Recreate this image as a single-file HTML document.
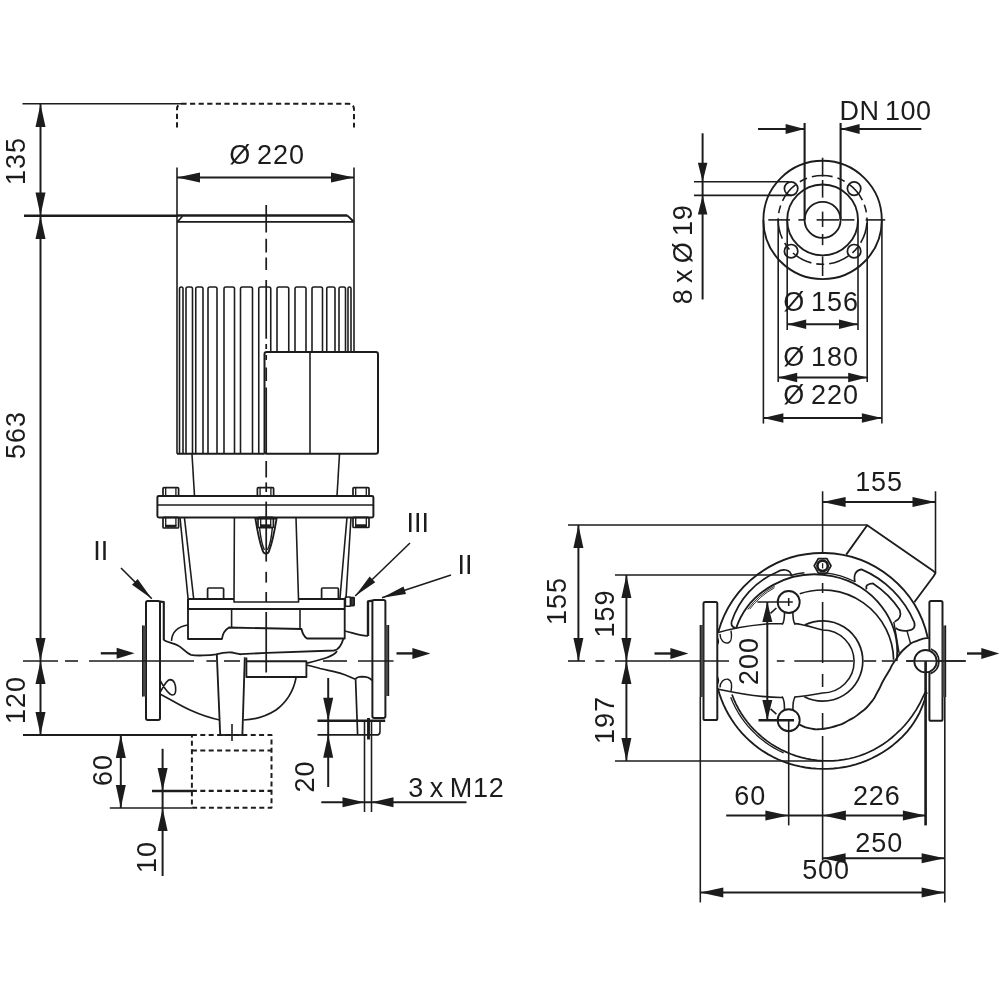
<!DOCTYPE html>
<html><head><meta charset="utf-8"><title>Pump dimension drawing</title>
<style>
html,body{margin:0;padding:0;background:#fff;}
body{width:1000px;height:1000px;overflow:hidden;}
svg{display:block;will-change:transform;transform:translateZ(0);}
svg *{vector-effect:none;}
text{font-family:"Liberation Sans",sans-serif;fill:#1c1c1c;stroke:none;}
</style></head><body>
<svg width="1000" height="1000" viewBox="0 0 1000 1000" fill="none" stroke="#1c1c1c" stroke-linecap="butt" stroke-linejoin="round">
<rect x="0" y="0" width="1000" height="1000" fill="#ffffff" stroke="none"/>
<!-- front view -->
<line x1="22.5" y1="103.75" x2="182" y2="103.75" stroke-width="1.58"/>
<line x1="24" y1="215.75" x2="177" y2="215.75" stroke-width="2.64"/>
<line x1="40.5" y1="104" x2="40.5" y2="735" stroke-width="1.98"/>
<polygon points="40.5,104 45.5,127 35.5,127" fill="#1c1c1c" stroke="none"/>
<polygon points="40.5,215.5 35.5,192.5 45.5,192.5" fill="#1c1c1c" stroke="none"/>
<polygon points="40.5,216 45.5,239 35.5,239" fill="#1c1c1c" stroke="none"/>
<polygon points="40.5,661 35.5,638 45.5,638" fill="#1c1c1c" stroke="none"/>
<polygon points="40.5,661 45.5,684 35.5,684" fill="#1c1c1c" stroke="none"/>
<polygon points="40.5,735 35.5,712 45.5,712" fill="#1c1c1c" stroke="none"/>
<text x="25" y="161" font-size="27" text-anchor="middle" letter-spacing="0.9" word-spacing="-2.4" transform="rotate(-90 25 161)">135</text>
<text x="25" y="435" font-size="27" text-anchor="middle" letter-spacing="0.9" word-spacing="-2.4" transform="rotate(-90 25 435)">563</text>
<text x="25" y="700" font-size="27" text-anchor="middle" letter-spacing="0.9" word-spacing="-2.4" transform="rotate(-90 25 700)">120</text>
<path d="M177 127.5V109.5Q177 103.75 182.5 103.75H348.5Q354 103.75 354 109.5V127.5" stroke-width="1.98" fill="none" stroke-dasharray="5.2 3.4"/>
<line x1="177" y1="177.5" x2="354" y2="177.5" stroke-width="2.24"/>
<polygon points="177,177.5 200,172.5 200,182.5" fill="#1c1c1c" stroke="none"/>
<polygon points="354,177.5 331,182.5 331,172.5" fill="#1c1c1c" stroke="none"/>
<text x="267" y="163.7" font-size="27" text-anchor="middle" letter-spacing="0.9" word-spacing="-2.4">&#216; 220</text>
<line x1="177" y1="167.5" x2="177" y2="453.75" stroke-width="1.58"/>
<line x1="354" y1="167.5" x2="354" y2="352" stroke-width="1.58"/>
<line x1="177" y1="215.6" x2="347.4" y2="215.6" stroke-width="2.51"/>
<line x1="177" y1="221.8" x2="354" y2="221.8" stroke-width="1.85"/>
<line x1="347.2" y1="215.4" x2="353.8" y2="221.8" stroke-width="1.98"/>
<line x1="177.6" y1="221.6" x2="182.5" y2="216.2" stroke-width="1.58"/>
<path d="M179.5 453.75V288.75Q179.5 287 181.25 287H181.25Q183 287 183 288.75V453.75" stroke-width="1.58" fill="none"/>
<path d="M186 453.75V288.8Q186 287 187.8 287H190.7Q192.5 287 192.5 288.8V453.75" stroke-width="1.58" fill="none"/>
<path d="M195.75 453.75V288.8Q195.75 287 197.55 287H201.2Q203 287 203 288.8V453.75" stroke-width="1.58" fill="none"/>
<path d="M208 453.75V288.8Q208 287 209.8 287H215.2Q217 287 217 288.8V453.75" stroke-width="1.58" fill="none"/>
<path d="M224 453.75V288.8Q224 287 225.8 287H232.7Q234.5 287 234.5 288.8V453.75" stroke-width="1.58" fill="none"/>
<path d="M240.5 453.75V288.8Q240.5 287 242.3 287H250.7Q252.5 287 252.5 288.8V453.75" stroke-width="1.58" fill="none"/>
<path d="M258.75 453.75V288.8Q258.75 287 260.55 287H268.95Q270.75 287 270.75 288.8V352" stroke-width="1.58" fill="none"/>
<path d="M277 352V288.8Q277 287 278.8 287H286.95Q288.75 287 288.75 288.8V352" stroke-width="1.58" fill="none"/>
<path d="M295 352V288.8Q295 287 296.8 287H304.2Q306 287 306 288.8V352" stroke-width="1.58" fill="none"/>
<path d="M312 352V288.8Q312 287 313.8 287H320.7Q322.5 287 322.5 288.8V352" stroke-width="1.58" fill="none"/>
<path d="M326.75 352V288.8Q326.75 287 328.55 287H333.2Q335 287 335 288.8V352" stroke-width="1.58" fill="none"/>
<path d="M339 352V288.8Q339 287 340.8 287H343.7Q345.5 287 345.5 288.8V352" stroke-width="1.58" fill="none"/>
<path d="M348 352V288.5Q348 287 349.5 287H349.5Q351 287 351 288.5V352" stroke-width="1.58" fill="none"/>
<line x1="177" y1="453.75" x2="264.5" y2="453.75" stroke-width="2.11"/>
<rect x="264.5" y="352" width="113.5" height="101.75" rx="2.2" stroke-width="1.98" fill="none"/>
<line x1="310" y1="352" x2="310" y2="453.75" stroke-width="1.58"/>
<line x1="266.2" y1="205" x2="266.2" y2="232.5" stroke-width="1.72"/>
<line x1="266.2" y1="238.75" x2="266.2" y2="252.5" stroke-width="1.72"/>
<line x1="266.2" y1="257.5" x2="266.2" y2="270" stroke-width="1.72"/>
<line x1="266.2" y1="280" x2="266.2" y2="338.75" stroke-width="1.72"/>
<line x1="266.2" y1="344" x2="266.2" y2="349" stroke-width="1.72"/>
<line x1="266.2" y1="355" x2="266.2" y2="360" stroke-width="1.72"/>
<line x1="266.2" y1="367.5" x2="266.2" y2="381" stroke-width="1.72"/>
<line x1="266.2" y1="387.5" x2="266.2" y2="453" stroke-width="1.72"/>
<line x1="266.2" y1="461" x2="266.2" y2="477.5" stroke-width="1.72"/>
<line x1="266.2" y1="482.4" x2="266.2" y2="492" stroke-width="1.72"/>
<line x1="266.2" y1="501.6" x2="266.2" y2="561.6" stroke-width="1.72"/>
<line x1="266.2" y1="571.8" x2="266.2" y2="582.6" stroke-width="1.72"/>
<line x1="266.2" y1="592" x2="266.2" y2="602" stroke-width="1.72"/>
<line x1="266.2" y1="612" x2="266.2" y2="672.5" stroke-width="1.72"/>
<line x1="192" y1="454" x2="194.5" y2="496" stroke-width="1.58"/>
<line x1="339.5" y1="454" x2="337" y2="496" stroke-width="1.58"/>
<rect x="157.4" y="496" width="216" height="21.4" rx="1.5" stroke-width="1.98" fill="none"/>
<line x1="157.4" y1="505" x2="373.4" y2="505" stroke-width="1.58"/>
<rect x="163" y="487.6" width="15.6" height="8.4" rx="1" stroke-width="1.72" fill="none"/>
<line x1="165.7" y1="487.6" x2="165.7" y2="496" stroke-width="1.32"/>
<line x1="175.9" y1="487.6" x2="175.9" y2="496" stroke-width="1.32"/>
<rect x="257.4" y="487.6" width="16.2" height="8.4" rx="1" stroke-width="1.72" fill="none"/>
<line x1="260.1" y1="487.6" x2="260.1" y2="496" stroke-width="1.32"/>
<line x1="270.9" y1="487.6" x2="270.9" y2="496" stroke-width="1.32"/>
<rect x="353" y="487.6" width="16" height="8.4" rx="1" stroke-width="1.72" fill="none"/>
<line x1="355.7" y1="487.6" x2="355.7" y2="496" stroke-width="1.32"/>
<line x1="366.3" y1="487.6" x2="366.3" y2="496" stroke-width="1.32"/>
<rect x="163" y="517.4" width="15.6" height="10.6" rx="1" stroke-width="1.72" fill="none"/>
<line x1="165.7" y1="517.4" x2="165.7" y2="525.6" stroke-width="1.32"/>
<line x1="175.9" y1="517.4" x2="175.9" y2="525.6" stroke-width="1.32"/>
<line x1="165" y1="526.2" x2="176.6" y2="526.2" stroke-width="2.9"/>
<rect x="258" y="517.4" width="15.4" height="10.2" rx="1" stroke-width="1.72" fill="none"/>
<line x1="260.7" y1="517.4" x2="260.7" y2="525.2" stroke-width="1.32"/>
<line x1="270.7" y1="517.4" x2="270.7" y2="525.2" stroke-width="1.32"/>
<line x1="260" y1="525.8" x2="271.4" y2="525.8" stroke-width="2.9"/>
<rect x="353" y="517.4" width="16" height="10.1" rx="1" stroke-width="1.72" fill="none"/>
<line x1="355.7" y1="517.4" x2="355.7" y2="525.1" stroke-width="1.32"/>
<line x1="366.3" y1="517.4" x2="366.3" y2="525.1" stroke-width="1.32"/>
<line x1="355" y1="525.7" x2="367" y2="525.7" stroke-width="2.9"/>
<line x1="180" y1="517.4" x2="188" y2="598" stroke-width="1.58"/>
<line x1="184.4" y1="517.4" x2="193.6" y2="598" stroke-width="1.58"/>
<line x1="351" y1="517.4" x2="346" y2="598" stroke-width="1.58"/>
<line x1="347" y1="517.4" x2="340" y2="598" stroke-width="1.58"/>
<path d="M234.4 517.4L234 602H298.6L296 517.4" stroke-width="1.58" fill="none"/>
<path d="M255.2 517.4C257.5 532 260.6 545 262.4 550Q263.4 553.6 266 553.6Q268.6 553.6 269.4 550C271.4 545 274.4 532 276.8 517.4" stroke-width="1.85" fill="none"/>
<line x1="255.4" y1="518.4" x2="276.6" y2="518.4" stroke-width="2.38"/>
<path d="M259.4 527C260.5 537 262.5 546 264.4 550" stroke-width="1.45" fill="none"/>
<path d="M272.4 527C271.6 537 269.6 546 267.4 550" stroke-width="1.45" fill="none"/>
<rect x="207.6" y="588" width="16" height="11" rx="1" stroke-width="1.72" fill="none"/>
<rect x="321.6" y="588" width="16.8" height="11" rx="1" stroke-width="1.72" fill="none"/>
<path d="M234 599H188V609H344.7V599H298.5" stroke-width="1.98" fill="none"/>
<path d="M188 609V639H222Q223 631 229 627.5L301.5 629Q303 636 307 638.5H344.7V609" stroke-width="1.85" fill="none"/>
<line x1="231.6" y1="609" x2="231.6" y2="627.5" stroke-width="1.58"/>
<line x1="300" y1="609" x2="300" y2="628.5" stroke-width="1.58"/>
<rect x="345.4" y="597" width="5" height="9.2" rx="0.5" stroke-width="1.58" fill="none"/>
<rect x="350.8" y="597.6" width="3.4" height="8" rx="0.5" stroke-width="1.58" fill="#3a3a3a"/>
<rect x="146" y="601" width="14" height="119" rx="1.8" stroke-width="1.98" fill="none"/>
<path d="M160 601.6L163.8 602V640" stroke-width="2.11" fill="none"/>
<line x1="144" y1="625.5" x2="144" y2="696.5" stroke="#4a4a4a" stroke-width="3.4"/>
<line x1="142.6" y1="625.5" x2="142.6" y2="696.5" stroke-width="1.19"/>
<rect x="372.4" y="600" width="13" height="118" rx="1.8" stroke-width="1.98" fill="none"/>
<path d="M372.4 600.6L368 601.4V636" stroke-width="2.38" fill="none"/>
<line x1="387.2" y1="625" x2="387.2" y2="696" stroke="#4a4a4a" stroke-width="3.4"/>
<line x1="388.6" y1="625" x2="388.6" y2="696" stroke-width="1.19"/>
<path d="M188 625C178 626.5 172 632 171.5 641" stroke-width="1.58" fill="none"/>
<path d="M163.6 640C168 642.5 174 643.5 178 645.5C183 648 185 652.5 191 654.8C196 656 210 655.4 216 654.4C221 653 226 652 232 652.5C236 653.2 238 654.4 241 654.2L267 652.8L334 650.5C339 650 341.5 645 343.5 638.5" stroke-width="1.85" fill="none"/>
<path d="M337 651C334 656.5 322 659.5 307 663.2" stroke-width="1.72" fill="none"/>
<path d="M306.4 665C312 666.4 316 667.4 320 668.5C328 670.4 334 671.5 340 673.2C346 675 350 677 355.6 679.2" stroke-width="1.72" fill="none"/>
<path d="M246.4 657.5V677H306.4V661.2H246.4" stroke-width="1.85" fill="none"/>
<line x1="216.8" y1="654.4" x2="220.2" y2="734.5" stroke-width="1.85"/>
<line x1="244.8" y1="657.4" x2="242.4" y2="734.5" stroke-width="1.85"/>
<path d="M160 694C170 699 178 704.5 190 710C200 714.5 210 718 219.8 720" stroke-width="1.72" fill="none"/>
<path d="M243.6 720C254 719.5 266 716.5 276 710C286 702.5 293.5 691 296 677.8" stroke-width="1.72" fill="none"/>
<path d="M159.6 679.4C162 684 166 691 170 694C173 696 175.6 695 175.7 690C175.8 684 174 679.6 170 679.6C166 680 162.6 688 159.6 693.4" stroke-width="1.58" fill="none"/>
<path d="M344.7 631C351 632 358 635.6 368 636" stroke-width="1.72" fill="none"/>
<path d="M355.6 679.2Q356.6 676.8 362 676.6Q369 676.6 372 680.4" stroke-width="1.72" fill="none"/>
<line x1="355.6" y1="679.2" x2="357.6" y2="734.5" stroke-width="1.72"/>
<path d="M380 721V731.5Q380 734.6 377.5 734.8" stroke-width="1.58" fill="none"/>
<line x1="317.5" y1="720.8" x2="385.2" y2="720.8" stroke-width="2.64"/>
<line x1="317.5" y1="734.8" x2="378.5" y2="734.8" stroke-width="1.72"/>
<line x1="364.5" y1="721" x2="364.5" y2="812" stroke-width="1.58"/>
<line x1="371.5" y1="721" x2="371.5" y2="812" stroke-width="1.58"/>
<line x1="368.5" y1="718" x2="368.5" y2="739.5" stroke-width="2.9"/>
<line x1="23" y1="661" x2="58" y2="661" stroke-width="1.58"/>
<line x1="65" y1="661" x2="78" y2="661" stroke-width="1.58"/>
<line x1="89" y1="661" x2="194" y2="661" stroke-width="1.58"/>
<line x1="206.4" y1="661" x2="216" y2="661" stroke-width="1.58"/>
<line x1="224" y1="661" x2="240" y2="661" stroke-width="1.58"/>
<line x1="323" y1="661" x2="347" y2="661" stroke-width="1.58"/>
<line x1="358" y1="661" x2="393.5" y2="661" stroke-width="1.58"/>
<line x1="100.8" y1="653.3" x2="120" y2="653.3" stroke-width="2.38"/>
<polygon points="134.6,653.3 116.6,658.8 116.6,647.8" fill="#1c1c1c" stroke="none"/>
<line x1="396.5" y1="653.4" x2="415" y2="653.4" stroke-width="2.38"/>
<polygon points="430.4,653.4 412.4,658.9 412.4,647.9" fill="#1c1c1c" stroke="none"/>
<text x="100.7" y="560.2" font-size="27" text-anchor="middle" letter-spacing="0" word-spacing="-2.4">II</text>
<text x="417.8" y="531.8" font-size="27" text-anchor="middle" letter-spacing="0" word-spacing="-2.4">III</text>
<text x="465" y="574.3" font-size="27" text-anchor="middle" letter-spacing="0" word-spacing="-2.4">II</text>
<line x1="121" y1="568" x2="151.8" y2="598.8" stroke-width="1.58"/>
<polygon points="151.8,598.8 132,584.66 137.66,579" fill="#1c1c1c" stroke="none"/>
<line x1="410" y1="543" x2="355.2" y2="596" stroke-width="1.58"/>
<polygon points="355.2,596 369.67,576.44 375.23,582.19" fill="#1c1c1c" stroke="none"/>
<line x1="451" y1="575" x2="382" y2="597.8" stroke-width="1.58"/>
<polygon points="382,597.8 403.53,586.47 406.04,594.07" fill="#1c1c1c" stroke="none"/>
<line x1="23" y1="735" x2="191.9" y2="735" stroke-width="2.11"/>
<line x1="220.5" y1="735" x2="243.5" y2="735" stroke-width="1.85"/>
<line x1="232" y1="724" x2="232" y2="741" stroke-width="1.58"/>
<path d="M191.9 735H271.5V807.8H191.9Z" stroke-width="1.98" fill="none" stroke-dasharray="5 3.4"/>
<line x1="191.9" y1="750.6" x2="271.5" y2="750.6" stroke-width="1.98" stroke-dasharray="5 3.4"/>
<line x1="191.9" y1="790.9" x2="271.5" y2="790.9" stroke-width="2.38" stroke-dasharray="5 3.4"/>
<line x1="120.8" y1="735" x2="120.8" y2="808" stroke-width="1.98"/>
<polygon points="120.8,735 125.8,758 115.8,758" fill="#1c1c1c" stroke="none"/>
<polygon points="120.8,808 115.8,785 125.8,785" fill="#1c1c1c" stroke="none"/>
<line x1="109.8" y1="808" x2="192" y2="808" stroke-width="1.58"/>
<text x="111.5" y="770" font-size="27" text-anchor="middle" letter-spacing="0.9" word-spacing="-2.4" transform="rotate(-90 111.5 770)">60</text>
<line x1="162.6" y1="748.8" x2="162.6" y2="876" stroke-width="1.98"/>
<polygon points="162.6,791 157.6,768 167.6,768" fill="#1c1c1c" stroke="none"/>
<polygon points="162.6,808 167.6,831 157.6,831" fill="#1c1c1c" stroke="none"/>
<line x1="152" y1="791" x2="192" y2="791" stroke-width="2.64"/>
<text x="155.5" y="857" font-size="27" text-anchor="middle" letter-spacing="0.9" word-spacing="-2.4" transform="rotate(-90 155.5 857)">10</text>
<line x1="328.2" y1="678" x2="328.2" y2="787" stroke-width="1.98"/>
<polygon points="328.2,720.8 323.2,697.8 333.2,697.8" fill="#1c1c1c" stroke="none"/>
<polygon points="328.2,734.8 333.2,757.8 323.2,757.8" fill="#1c1c1c" stroke="none"/>
<text x="313.6" y="776.5" font-size="27" text-anchor="middle" letter-spacing="0.9" word-spacing="-2.4" transform="rotate(-90 313.6 776.5)">20</text>
<line x1="321.3" y1="802.3" x2="466.5" y2="802.3" stroke-width="1.98"/>
<polygon points="364.5,802.3 342.5,807.3 342.5,797.3" fill="#1c1c1c" stroke="none"/>
<polygon points="371.5,802.3 393.5,797.3 393.5,807.3" fill="#1c1c1c" stroke="none"/>
<text x="408.3" y="796.8" font-size="27" text-anchor="start" letter-spacing="0.7" word-spacing="-2.4">3 x M12</text>
<!-- flange view -->
<circle cx="822.6" cy="219.9" r="59.2" stroke-width="1.85" fill="none"/>
<circle cx="822.6" cy="219.9" r="44.4" stroke-width="1.58" stroke-dasharray="21 5 8 5" stroke-dashoffset="-3" fill="none"/>
<circle cx="822.6" cy="219.9" r="35.4" stroke-width="1.85" fill="none"/>
<circle cx="822.6" cy="219.9" r="18" stroke-width="1.85" fill="none"/>
<circle cx="791.1" cy="188.6" r="6.7" stroke-width="1.72" fill="none"/>
<circle cx="791.1" cy="251.2" r="6.7" stroke-width="1.72" fill="none"/>
<circle cx="854.1" cy="188.6" r="6.7" stroke-width="1.72" fill="none"/>
<circle cx="854.1" cy="251.2" r="6.7" stroke-width="1.72" fill="none"/>
<line x1="768.3" y1="219.9" x2="790" y2="219.9" stroke-width="1.58"/>
<line x1="798.4" y1="219.9" x2="804.7" y2="219.9" stroke-width="1.58"/>
<line x1="816.6" y1="219.9" x2="839" y2="219.9" stroke-width="1.58"/>
<line x1="841.8" y1="219.9" x2="854.4" y2="219.9" stroke-width="1.58"/>
<line x1="865.6" y1="219.9" x2="885.2" y2="219.9" stroke-width="1.58"/>
<line x1="822.6" y1="157.7" x2="822.6" y2="176.6" stroke-width="1.58"/>
<line x1="822.6" y1="180" x2="822.6" y2="197.6" stroke-width="1.58"/>
<line x1="822.6" y1="211.6" x2="822.6" y2="227" stroke-width="1.58"/>
<line x1="822.6" y1="234" x2="822.6" y2="245.2" stroke-width="1.58"/>
<line x1="822.6" y1="256.4" x2="822.6" y2="276" stroke-width="1.58"/>
<line x1="804.6" y1="123" x2="804.6" y2="219.9" stroke-width="2.11"/>
<line x1="840.6" y1="123" x2="840.6" y2="219.9" stroke-width="2.11"/>
<line x1="758" y1="128.9" x2="804.6" y2="128.9" stroke-width="1.98"/>
<line x1="840.6" y1="128.9" x2="921.3" y2="128.9" stroke-width="1.98"/>
<polygon points="804.6,128.9 785.6,133.9 785.6,123.9" fill="#1c1c1c" stroke="none"/>
<polygon points="840.6,128.9 859.6,123.9 859.6,133.9" fill="#1c1c1c" stroke="none"/>
<text x="839.6" y="120.3" font-size="27" text-anchor="start" letter-spacing="0.5" word-spacing="-2.6">DN 100</text>
<line x1="694" y1="181.7" x2="789" y2="181.7" stroke-width="1.58"/>
<line x1="694" y1="195.4" x2="791.5" y2="195.4" stroke-width="1.58"/>
<line x1="702.6" y1="133.3" x2="702.6" y2="299.5" stroke-width="1.98"/>
<polygon points="702.6,181.7 697.85,162.7 707.35,162.7" fill="#1c1c1c" stroke="none"/>
<polygon points="702.6,195.4 707.35,214.4 697.85,214.4" fill="#1c1c1c" stroke="none"/>
<text x="692.3" y="254.5" font-size="27" text-anchor="middle" letter-spacing="0.6" word-spacing="-2.4" transform="rotate(-90 692.3 254.5)">8 x &#216; 19</text>
<line x1="787.2" y1="219.9" x2="787.2" y2="330" stroke-width="1.58"/>
<line x1="858" y1="219.9" x2="858" y2="330" stroke-width="1.58"/>
<line x1="787.2" y1="324.2" x2="858" y2="324.2" stroke-width="1.98"/>
<polygon points="787.2,324.2 806.2,319.45 806.2,328.95" fill="#1c1c1c" stroke="none"/>
<polygon points="858,324.2 839,328.95 839,319.45" fill="#1c1c1c" stroke="none"/>
<text x="821" y="311.2" font-size="27" text-anchor="middle" letter-spacing="0.9" word-spacing="-2.4">&#216; 156</text>
<line x1="778.2" y1="219.9" x2="778.2" y2="382" stroke-width="1.58"/>
<line x1="867.2" y1="219.9" x2="867.2" y2="382" stroke-width="1.58"/>
<line x1="778.2" y1="377.6" x2="867.2" y2="377.6" stroke-width="1.98"/>
<polygon points="778.2,377.6 797.2,372.85 797.2,382.35" fill="#1c1c1c" stroke="none"/>
<polygon points="867.2,377.6 848.2,382.35 848.2,372.85" fill="#1c1c1c" stroke="none"/>
<text x="821" y="365.6" font-size="27" text-anchor="middle" letter-spacing="0.9" word-spacing="-2.4">&#216; 180</text>
<line x1="763.4" y1="219.9" x2="763.4" y2="423.6" stroke-width="1.58"/>
<line x1="881.9" y1="219.9" x2="881.9" y2="423.6" stroke-width="1.58"/>
<line x1="763.4" y1="417.9" x2="881.9" y2="417.9" stroke-width="1.98"/>
<polygon points="763.4,417.9 783.4,413.15 783.4,422.65" fill="#1c1c1c" stroke="none"/>
<polygon points="881.9,417.9 861.9,422.65 861.9,413.15" fill="#1c1c1c" stroke="none"/>
<text x="821" y="404.2" font-size="27" text-anchor="middle" letter-spacing="0.9" word-spacing="-2.4">&#216; 220</text>
<!-- plan view -->
<line x1="568" y1="525" x2="867.2" y2="525" stroke-width="1.58"/>
<line x1="578.4" y1="525" x2="578.4" y2="661" stroke-width="1.98"/>
<polygon points="578.4,525 583.4,548 573.4,548" fill="#1c1c1c" stroke="none"/>
<polygon points="578.4,661 573.4,638 583.4,638" fill="#1c1c1c" stroke="none"/>
<text x="566" y="601" font-size="27" text-anchor="middle" letter-spacing="0.9" word-spacing="-2.4" transform="rotate(-90 566 601)">155</text>
<line x1="615" y1="575" x2="791.6" y2="575" stroke-width="1.58"/>
<line x1="615" y1="761" x2="822.6" y2="761" stroke-width="1.58"/>
<line x1="626.4" y1="575" x2="626.4" y2="761" stroke-width="1.98"/>
<polygon points="626.4,575 631.4,598 621.4,598" fill="#1c1c1c" stroke="none"/>
<polygon points="626.4,661 621.4,638 631.4,638" fill="#1c1c1c" stroke="none"/>
<polygon points="626.4,661 631.4,684 621.4,684" fill="#1c1c1c" stroke="none"/>
<polygon points="626.4,761 621.4,738 631.4,738" fill="#1c1c1c" stroke="none"/>
<text x="614" y="613.5" font-size="27" text-anchor="middle" letter-spacing="0.9" word-spacing="-2.4" transform="rotate(-90 614 613.5)">159</text>
<text x="614" y="720" font-size="27" text-anchor="middle" letter-spacing="0.9" word-spacing="-2.4" transform="rotate(-90 614 720)">197</text>
<line x1="568" y1="661" x2="585" y2="661" stroke-width="1.58"/>
<line x1="595.5" y1="661" x2="604.5" y2="661" stroke-width="1.58"/>
<line x1="615" y1="661" x2="729" y2="661" stroke-width="1.58"/>
<line x1="776.8" y1="661" x2="784.5" y2="661" stroke-width="1.58"/>
<line x1="794.3" y1="661" x2="853.1" y2="661" stroke-width="1.58"/>
<line x1="863.6" y1="661" x2="876.2" y2="661" stroke-width="1.58"/>
<line x1="881.8" y1="661" x2="894.4" y2="661" stroke-width="1.58"/>
<line x1="906.2" y1="661" x2="965.7" y2="661" stroke-width="1.58"/>
<line x1="822.6" y1="491.3" x2="822.6" y2="553.5" stroke-width="1.58"/>
<line x1="822.6" y1="583" x2="822.6" y2="593" stroke-width="1.58"/>
<line x1="822.6" y1="602" x2="822.6" y2="663" stroke-width="1.58"/>
<line x1="822.6" y1="674" x2="822.6" y2="687" stroke-width="1.58"/>
<line x1="822.6" y1="713" x2="822.6" y2="730" stroke-width="1.58"/>
<line x1="822.6" y1="736" x2="822.6" y2="860.4" stroke-width="1.58"/>
<line x1="654.5" y1="653.5" x2="673" y2="653.5" stroke-width="2.38"/>
<polygon points="688.4,653.5 670.4,659 670.4,648" fill="#1c1c1c" stroke="none"/>
<line x1="967" y1="653.5" x2="984" y2="653.5" stroke-width="2.38"/>
<polygon points="999.3,653.5 981.3,659 981.3,648" fill="#1c1c1c" stroke="none"/>
<line x1="935.5" y1="491.3" x2="935.5" y2="573" stroke-width="1.58"/>
<line x1="822.6" y1="502.1" x2="935.5" y2="502.1" stroke-width="1.98"/>
<polygon points="822.6,502.1 845.6,497.1 845.6,507.1" fill="#1c1c1c" stroke="none"/>
<polygon points="935.5,502.1 912.5,507.1 912.5,497.1" fill="#1c1c1c" stroke="none"/>
<text x="879" y="491.3" font-size="27" text-anchor="middle" letter-spacing="0.9" word-spacing="-2.4">155</text>
<rect x="703.5" y="602" width="13.8" height="118" rx="1.6" stroke-width="1.98" fill="none"/>
<line x1="701.6" y1="625" x2="701.6" y2="697" stroke="#4a4a4a" stroke-width="3.4"/>
<line x1="700.3" y1="625" x2="700.3" y2="697" stroke-width="1.19"/>
<rect x="929.4" y="601" width="13.1" height="119.8" rx="1.6" stroke-width="1.98" fill="none"/>
<line x1="944.2" y1="625.5" x2="944.2" y2="697" stroke="#4a4a4a" stroke-width="3.4"/>
<line x1="945.6" y1="625.5" x2="945.6" y2="697" stroke-width="1.19"/>
<path d="M846.2 554.6L867.2 525.2L933.4 571L935.4 573.2L933.6 576.2L914.3 602.2" stroke-width="1.85" fill="none"/>
<path d="M718.18 632.32A108 108 0 0 1 927.7 637.44" stroke-width="1.85" fill="none"/>
<path d="M717.88 688.59L719.48 694.03L721.36 699.37L723.52 704.61L725.96 709.73L728.65 714.72L731.61 719.55L734.81 724.23L738.26 728.73L741.93 733.04L745.83 737.15L749.94 741.05L754.24 744.73L758.73 748.18L763.4 751.39L768.23 754.35L773.21 757.05L778.32 759.49L783.55 761.65L788.89 763.54L794.32 765.15L799.82 766.46L805.39 767.49L811 768.22L816.64 768.66L822.3 768.8L827.95 768.8L833.6 768.51L839.23 767.92L844.84 767.03L850.39 765.85L855.89 764.38L861.31 762.62L866.63 760.58L871.85 758.25L876.95 755.66L882.46 752.47L887.79 748.97L892.91 745.15L897.81 741.04L902.47 736.64L906.87 731.96L910.43 727.41L913.74 722.68L916.8 717.78L919.6 712.74L922.19 706.74L924.42 700.61L926.27 694.38" stroke-width="1.85" fill="none"/>
<path d="M732 694.51L733.89 699.36L736.04 704.11L738.45 708.73L741.1 713.22L743.99 717.57L747.11 721.75L750.45 725.76L754.01 729.59L757.96 733.51L762.13 737.21L766.52 740.67L771.1 743.87L775.87 746.81L780.8 749.48L785.89 751.86L790.84 753.98L795.92 755.83L801.1 757.4L806.38 758.69L811.73 759.69L817.14 760.39L822.6 760.8L827.84 760.94L833.09 760.8L838.34 760.39L843.58 759.7L848.79 758.73L853.95 757.48L859.05 755.97L864.09 754.18L869 752.07L873.81 749.71L878.5 747.08L883.06 744.21L887.46 741.1L891.71 737.76L895.79 734.19L900.28 729.97L904.53 725.47L908.51 720.71L912.22 715.71L916.12 709.89L919.65 703.8L922.77 697.46L925.21 692.37" stroke-width="1.72" fill="none"/>
<path d="M925.2 692.3Q926.6 690.6 926.9 694" stroke-width="1.45" fill="none"/>
<path d="M730.67 697.21L732.91 702.55L735.46 707.75L738.31 712.8L741.46 717.67L744.88 722.35L748.57 726.82L752.53 731.07L756.41 734.89L760.49 738.48L764.78 741.85L769.24 744.98L773.88 747.87L778.67 750.5L783.61 752.87" stroke-width="1.32" fill="none"/>
<path d="M736.02 628.53A82.5 77.4 0 0 1 896.59 661.23" stroke-width="1.85" fill="none"/>
<path d="M747.71 609.47A80.8 75.7 0 0 1 774.91 585.91" stroke-width="0.92" fill="none"/>
<path d="M749.66 609.18A79.4 74.3 0 0 1 774.4 587.78" stroke-width="0.92" fill="none"/>
<path d="M790.64 575.48A84.7 79.6 0 0 1 804.38 572.79" stroke-width="1.58" fill="none"/>
<path d="M825.76 572.88A84.7 79.6 0 0 1 854.46 581.52" stroke-width="1.32" fill="none"/>
<path d="M735.6 628Q730.6 627 731.6 621.8A81 81 0 0 1 777.2 572C782 568.6 790.6 568.6 791.6 576.4" stroke-width="1.72" fill="none"/>
<path d="M854.92 582.2Q852.6 571 861.48 569.41A99.5 99.5 0 0 1 914.19 622.12Q916.5 629.5 908 630.6Q900 631.5 895.6 627.8" stroke-width="1.72" fill="none"/>
<path d="M866.6 589.39Q864.6 584 872.98 583.42A92.5 92.5 0 0 1 899.73 609.95Q902.5 618 894.6 621.8" stroke-width="1.72" fill="none"/>
<line x1="893.8" y1="621.8" x2="899.2" y2="653.5" stroke-width="1.45"/>
<line x1="906.8" y1="630.4" x2="910.6" y2="643.6" stroke-width="1.45"/>
<path d="M799.72 593.79A71 71 0 0 1 893.59 659.76" stroke-width="1.72" fill="none"/>
<path d="M928.8 637.8C925.47 638.6 926.33 637.07 918.8 640.2C911.27 643.33 914.13 640.33 906.2 647.2C898.27 654.07 900.73 652.87 895 660.8C889.27 668.73 892.93 664.33 889 671C885.07 677.67 887.03 673.8 883.2 680.8C879.37 687.8 881.77 684.53 877.5 692C873.23 699.47 876.23 696.2 870.4 703.2C864.57 710.2 867.47 707.13 860 713C852.53 718.87 856 716.47 848 720.8C840 725.13 844.53 723.33 836 726C827.47 728.67 831.07 728 822.4 728.8C813.73 729.6 817.67 729.8 810 728.4C802.33 727 802.93 725.87 799.4 724.6" stroke-width="1.85" fill="none"/>
<path d="M717.3 632.8C725 630.5 745 625.5 770 623.8H782" stroke-width="1.58" fill="none"/>
<path d="M794.5 623.6C803 624 812 627.4 822.6 630A31 31 0 0 1 822.6 693C812 695 803 696.6 794.5 697" stroke-width="1.58" fill="none"/>
<path d="M783 697.4C770 697.6 745 695 717.3 689" stroke-width="1.58" fill="none"/>
<path d="M804.98 624.87A40.2 40.2 0 1 1 804.35 696.82" stroke-width="1.72" fill="none"/>
<path d="M720 634C720 640 724 643.6 728 643C731.5 642 732 636 731 630.6" stroke-width="1.45" fill="none"/>
<path d="M720 687.6C720 682 724 678.6 728 679.2C731.5 680.2 732 686 731 691.6" stroke-width="1.45" fill="none"/>
<path d="M717.5 638Q719.5 641.5 717.5 644.5" stroke-width="1.32" fill="none"/>
<path d="M717.5 677Q719.5 680.5 717.5 684" stroke-width="1.32" fill="none"/>
<circle cx="788.7" cy="602" r="11" stroke-width="1.85" fill="none"/>
<circle cx="788.7" cy="720.2" r="11" stroke-width="1.85" fill="none"/>
<path d="M782.2 624.6Q784.6 621 784.5 612.2" stroke-width="1.58" fill="none"/>
<path d="M795.2 624.6Q792.8 621 792.9 612.2" stroke-width="1.58" fill="none"/>
<path d="M782.2 696.6Q784.6 700 784.5 710" stroke-width="1.58" fill="none"/>
<path d="M795.2 696.6Q792.8 700 792.9 710" stroke-width="1.58" fill="none"/>
<line x1="788.7" y1="598" x2="788.7" y2="606" stroke-width="1.58"/>
<polygon points="831,565.8 826.8,573.07 818.4,573.07 814.2,565.8 818.4,558.53 826.8,558.53" stroke-width="1.7" fill="none"/>
<circle cx="822.6" cy="565.8" r="5.2" stroke-width="2.7" fill="none"/>
<line x1="822.6" y1="563.2" x2="822.6" y2="568.4" stroke-width="1.3"/>
<circle cx="925.5" cy="661.2" r="11.2" stroke-width="1.85" fill="#ffffff"/>
<path d="M930.95 648.96A13.4 13.4 0 0 1 930.52 673.62" stroke-width="1.72" fill="none"/>
<line x1="906.2" y1="661" x2="965.7" y2="661" stroke-width="1.58"/>
<line x1="767.3" y1="602" x2="767.3" y2="720" stroke-width="1.98"/>
<polygon points="767.3,602 772.3,622 762.3,622" fill="#1c1c1c" stroke="none"/>
<polygon points="767.3,720 762.3,700 772.3,700" fill="#1c1c1c" stroke="none"/>
<line x1="757.4" y1="602" x2="792.8" y2="602" stroke-width="1.58"/>
<line x1="758.5" y1="720.2" x2="794" y2="720.2" stroke-width="2.64"/>
<line x1="770.5" y1="613.4" x2="776.4" y2="608" stroke-width="1.58"/>
<line x1="770.5" y1="708.8" x2="776.4" y2="714.2" stroke-width="1.58"/>
<text x="758.4" y="661" font-size="27" text-anchor="middle" letter-spacing="0.9" word-spacing="-2.4" transform="rotate(-90 758.4 661)">200</text>
<line x1="700.3" y1="697" x2="700.3" y2="902.4" stroke-width="1.58"/>
<line x1="788.7" y1="720.2" x2="788.7" y2="825.4" stroke-width="1.58"/>
<line x1="925.6" y1="661.2" x2="925.6" y2="825.4" stroke-width="2.64"/>
<line x1="944.8" y1="697" x2="944.8" y2="902.4" stroke-width="1.58"/>
<line x1="726.2" y1="815.6" x2="925.9" y2="815.6" stroke-width="1.98"/>
<polygon points="788.4,815.6 765.4,820.6 765.4,810.6" fill="#1c1c1c" stroke="none"/>
<polygon points="822.9,815.6 845.9,810.6 845.9,820.6" fill="#1c1c1c" stroke="none"/>
<polygon points="925.9,815.6 902.9,820.6 902.9,810.6" fill="#1c1c1c" stroke="none"/>
<text x="750.2" y="805" font-size="27" text-anchor="middle" letter-spacing="0.9" word-spacing="-2.4">60</text>
<text x="876.8" y="805" font-size="27" text-anchor="middle" letter-spacing="0.9" word-spacing="-2.4">226</text>
<line x1="822.6" y1="858.2" x2="944.6" y2="858.2" stroke-width="1.98"/>
<polygon points="822.6,858.2 845.6,853.2 845.6,863.2" fill="#1c1c1c" stroke="none"/>
<polygon points="944.6,858.2 921.6,863.2 921.6,853.2" fill="#1c1c1c" stroke="none"/>
<text x="879.2" y="851.5" font-size="27" text-anchor="middle" letter-spacing="0.9" word-spacing="-2.4">250</text>
<line x1="700.3" y1="892.6" x2="944.6" y2="892.6" stroke-width="1.98"/>
<polygon points="700.3,892.6 723.3,887.6 723.3,897.6" fill="#1c1c1c" stroke="none"/>
<polygon points="944.6,892.6 921.6,897.6 921.6,887.6" fill="#1c1c1c" stroke="none"/>
<text x="826" y="878.6" font-size="27" text-anchor="middle" letter-spacing="0.9" word-spacing="-2.4">500</text>
</svg>
</body></html>
